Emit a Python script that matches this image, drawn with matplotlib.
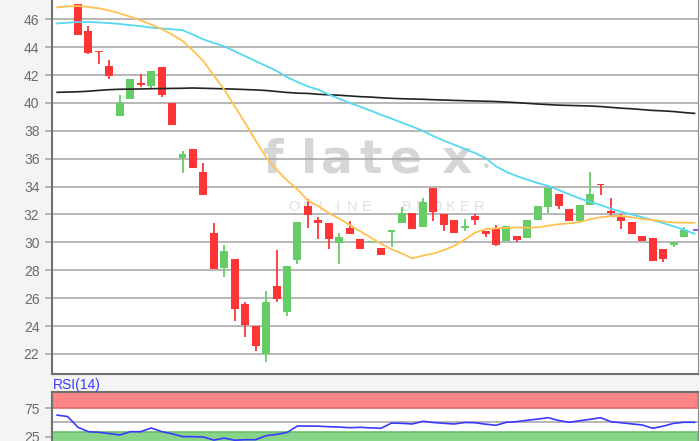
import matplotlib.pyplot as plt
import numpy as np

plt.rcParams['font.family'] = ['Liberation Sans', 'DejaVu Sans']

# daily candles (oldest -> newest)
opens = [47.10, 45.15, 43.74, 42.65, 39.06, 40.28, 41.45, 41.21, 42.55, 40.01,
         36.05, 36.70, 35.02, 30.65, 28.16, 28.79, 25.56, 24.03, 22.00, 26.87,
         24.99, 28.74, 32.61, 31.61, 31.42, 29.96, 31.03, 30.26, 30.00, 29.58,
         30.71, 31.37, 32.13, 31.08, 33.90, 32.04, 31.61, 31.01, 31.87, 30.84,
         31.01, 30.08, 30.46, 30.32, 31.61, 32.56, 33.45, 32.41, 31.53, 32.66,
         34.16, 32.27, 31.80, 31.48, 30.46, 30.29, 29.55, 29.84, 30.41]
highs = [47.10, 45.50, 43.74, 43.08, 40.57, 41.71, 42.07, 42.29, 42.55, 40.01,
         36.57, 36.70, 35.67, 31.41, 29.81, 28.79, 25.75, 24.03, 26.54, 29.46,
         28.33, 31.48, 33.09, 31.84, 31.42, 30.70, 31.53, 30.26, 30.05, 29.58,
         30.92, 32.56, 32.13, 33.16, 33.90, 32.04, 31.61, 31.68, 32.04, 30.84,
         31.22, 31.20, 30.46, 31.62, 32.61, 33.92, 33.45, 32.41, 32.71, 35.05,
         34.16, 33.16, 32.04, 31.48, 30.46, 30.29, 29.55, 30.03, 31.13]
lows = [44.90, 43.50, 42.80, 41.74, 39.06, 40.28, 41.12, 41.05, 40.45, 38.42,
        34.95, 35.36, 33.40, 28.07, 27.54, 24.37, 23.24, 22.20, 21.40, 25.75,
        24.75, 28.45, 31.05, 30.22, 29.50, 28.45, 30.62, 29.50, 30.00, 29.12,
        29.69, 31.37, 30.98, 31.08, 31.53, 30.84, 30.70, 30.80, 31.25, 30.41,
        29.74, 30.08, 30.05, 30.32, 31.61, 32.08, 32.41, 31.51, 31.53, 32.66,
        33.40, 31.84, 30.98, 30.60, 30.10, 28.67, 28.60, 29.69, 30.41]
closes = [44.90, 43.56, 43.65, 41.93, 40.00, 41.71, 41.26, 42.29, 40.54, 38.42,
          36.34, 35.36, 33.40, 28.07, 29.36, 25.20, 24.08, 22.60, 25.70, 25.96,
          28.33, 31.48, 31.96, 31.37, 30.24, 30.36, 30.62, 29.50, 30.05, 29.12,
          30.92, 32.13, 30.98, 32.90, 32.20, 31.25, 30.70, 31.18, 31.61, 30.60,
          29.84, 31.20, 30.19, 31.58, 32.61, 33.92, 32.63, 31.51, 32.71, 33.45,
          34.10, 32.11, 31.53, 30.60, 30.10, 28.67, 28.83, 30.03, 30.89]

# moving averages and RSI, starting two sessions before the first candle
ma_fast = [46.85, 46.92, 46.95, 46.88, 46.78, 46.62, 46.42, 46.18, 45.92, 45.62,
           45.30, 44.90, 44.45, 43.75, 43.00, 41.95, 40.95, 39.75, 38.55, 37.30,
           36.10, 35.20, 34.45, 33.80, 33.00, 32.60, 32.10, 31.70, 31.25, 30.80,
           30.35, 29.90, 29.50, 29.20, 28.86, 29.05, 29.20, 29.45, 29.75, 30.20,
           30.70, 30.95, 31.00, 31.05, 31.07, 31.05, 31.08, 31.20, 31.30, 31.37,
           31.45, 31.66, 31.80, 31.88, 31.89, 31.80, 31.68, 31.60, 31.50, 31.43,
           31.41, 31.41]
ma_mid = [45.70, 45.75, 45.80, 45.80, 45.77, 45.72, 45.66, 45.58, 45.50, 45.40,
          45.34, 45.28, 45.22, 44.90, 44.55, 44.30, 44.05, 43.70, 43.35, 43.00,
          42.65, 42.30, 41.85, 41.50, 41.18, 40.95, 40.60, 40.30, 40.00, 39.73,
          39.45, 39.15, 38.88, 38.58, 38.30, 38.00, 37.62, 37.30, 37.00, 36.70,
          36.40, 36.05, 35.45, 35.05, 34.75, 34.50, 34.25, 34.05, 33.75, 33.45,
          33.15, 32.90, 32.68, 32.42, 32.18, 32.00, 31.80, 31.60, 31.38, 31.15,
          30.90, 30.62]
ma_slow = [40.76, 40.78, 40.80, 40.84, 40.90, 40.95, 40.98, 40.99, 41.00, 41.02,
           41.03, 41.04, 41.05, 41.07, 41.05, 41.03, 41.01, 40.99, 40.96, 40.93,
           40.89, 40.82, 40.75, 40.70, 40.68, 40.62, 40.58, 40.55, 40.50, 40.45,
           40.42, 40.37, 40.33, 40.30, 40.28, 40.26, 40.23, 40.21, 40.18, 40.16,
           40.14, 40.12, 40.10, 40.06, 40.02, 39.97, 39.92, 39.88, 39.84, 39.82,
           39.80, 39.78, 39.74, 39.68, 39.62, 39.58, 39.52, 39.46, 39.43, 39.38,
           39.31, 39.25]
rsi = [63.0, 60.5, 41.5, 33.8, 32.8, 30.5, 28.0, 33.8, 33.8, 40.3,
       34.0, 30.0, 25.2, 25.0, 24.5, 19.0, 22.5, 18.7, 19.7, 19.7,
       26.8, 29.0, 32.5, 43.8, 43.8, 43.5, 42.6, 42.0, 40.8, 41.5,
       40.5, 39.8, 49.0, 48.5, 47.4, 52.1, 50.0, 48.5, 47.4, 50.0,
       49.6, 47.0, 45.1, 50.4, 51.5, 54.0, 56.0, 58.5, 53.5, 50.4,
       53.0, 55.6, 58.5, 51.4, 49.5, 47.5, 45.6, 39.8, 43.5, 48.5,
       50.4, 50.4]

price_ticks = list(range(22, 47, 2))
rsi_ticks = [25, 75]

W, H = 700, 441
fig = plt.figure(figsize=(7, 4.41), dpi=100, facecolor='#f4f4f4')


def fx(px):
    return px / W


def fy(py):
    return 1 - py / H


xlim = (-2.49, 59.33)

# ---- price panel
ax = fig.add_axes([fx(52), fy(374.3), fx(646), 374.3 / H])
ax.set_facecolor('white')
ax.set_xlim(*xlim)
ax.set_ylim(20.54, 47.38)

o = np.array(opens)
c = np.array(closes)
x = np.arange(len(o))
col = np.where(c >= o, '#66cc66', '#ff3535')
body = np.maximum(np.abs(c - o), 0.08)
ax.vlines(x, lows, highs, colors=col, lw=1.3, zorder=3)
ax.bar(x, body, bottom=np.minimum(o, c), width=0.76, color=col, zorder=3)

xm = np.arange(-2, -2 + len(ma_fast))
ax.plot(xm, ma_slow, color='#222222', lw=1.2, zorder=4)
ax.plot(xm, ma_mid, color='#55d8f2', lw=1.3, zorder=4)
ax.plot(xm, ma_fast, color='#ffc14f', lw=1.3, zorder=4)
ax.plot([len(o) - 0.1, len(o) + 0.5], [closes[-1]] * 2, color='#6a50ff', lw=1.3, zorder=5)

ax.set_yticks(price_ticks)
ax.grid(axis='y', color='#aaaaaa', lw=1.2)
ax.set_axisbelow(True)
ax.tick_params(axis='y', colors='#aaaaaa', labelcolor='#6b6b6b', length=5, width=1.2,
               labelsize=10, pad=4)
ax.tick_params(axis='x', bottom=False, labelbottom=False)
ax.spines['top'].set_visible(False)
for s in ('left', 'bottom'):
    ax.spines[s].set_color('#707070')
    ax.spines[s].set_linewidth(1.5)
ax.spines['right'].set_color('#909090')

# watermark
wm = '#d6d6d6'
for ch, px in zip('flatex', [262, 301, 321, 359, 390, 441]):
    ax.text(fx(px), fy(173), ch, transform=fig.transFigure, fontsize=34,
            fontweight='bold', color=wm, family='DejaVu Sans', zorder=0.4)
ax.text(fx(482), fy(166), '\u25cf', transform=fig.transFigure, fontsize=8,
        color=wm, va='center', zorder=0.4)
for i, ch in enumerate('ONLINE'):
    ax.text(fx(294 + i * 14.5), fy(211), ch, transform=fig.transFigure,
            fontsize=10.5, color='#e0e0e0', ha='center', zorder=0.4)
for i, ch in enumerate('BROKER'):
    ax.text(fx(407 + i * 14.5), fy(211), ch, transform=fig.transFigure,
            fontsize=10.5, color='#e0e0e0', ha='center', zorder=0.4)

# ---- RSI panel
ax2 = fig.add_axes([fx(52), 0, fx(646), 1 - 392.3 / H])
ax2.set_facecolor('white')
ax2.set_xlim(*xlim)
ax2.set_ylim(17.4, 103.2)
ax2.axhspan(75, 110, facecolor='#ff8686', edgecolor='#dd6a6a', lw=1.2, zorder=1)
ax2.axhspan(0, 33, facecolor='#88d488', edgecolor='#6cbf6c', lw=1.2, zorder=1)
ax2.axhline(50, color='#aaaaaa', lw=1.2, zorder=1)
ax2.plot(xm, rsi, color='#3a3aff', lw=1.2, zorder=3)
ax2.set_yticks(rsi_ticks)
ax2.tick_params(axis='y', colors='#aaaaaa', labelcolor='#6b6b6b', length=5, width=1.2,
                labelsize=10, pad=4)
ax2.tick_params(axis='x', bottom=False, labelbottom=False)
ax2.spines['bottom'].set_visible(False)
for s in ('left', 'top'):
    ax2.spines[s].set_color('#707070')
    ax2.spines[s].set_linewidth(1.5)
ax2.spines['right'].set_color('#909090')

fig.text(fx(53), fy(389), 'RSI(14)', color='#3a3aff', fontsize=10)

fig.savefig('out.png', dpi=100, facecolor=fig.get_facecolor())
